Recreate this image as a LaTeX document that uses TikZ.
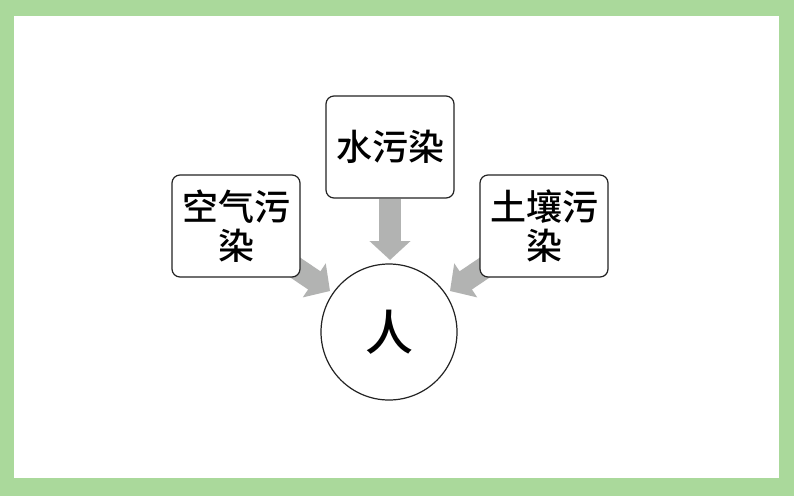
\documentclass[tikz,border=0pt]{standalone}
\usepackage{fontspec}
\setmainfont{Noto Sans CJK SC}[UprightFont={* Medium}]
\usetikzlibrary{arrows.meta,backgrounds}
\definecolor{framegreen}{RGB}{170,217,155}
\definecolor{arrowgray}{RGB}{178,179,178}
\definecolor{linegray}{RGB}{35,35,35}
\begin{document}
\begin{tikzpicture}[x=1pt,y=-1pt,
  box/.style={draw=linegray, line width=1.2pt, rounded corners=8pt, fill=white,
    minimum width=128pt, minimum height=102pt, align=center, inner sep=0pt,
    font=\fontsize{36}{39}\selectfont},
  person/.style={circle, draw=linegray, line width=1.2pt, fill=white,
    minimum size=136pt, inner sep=0pt, font=\fontsize{48}{50}\selectfont},
  fat/.style={draw=arrowgray, line width=22pt, -{Triangle[length=19pt,width=40pt]}}]
\useasboundingbox (0,0) rectangle (794,496);
\node[box] (air) at (236,226) {空气污\\染};
\node[box] (water) at (390,147) {水污染};
\node[box] (soil) at (544,226) {土壤污\\染};
\node[person] (ren) at (389,332) {人};
\coordinate (airstart) at (290,264);
\coordinate (airtip) at (330,291);
\coordinate (soilstart) at (490,264);
\coordinate (soiltip) at (450,291);
\coordinate (watertip) at (390,260);
\begin{scope}[on background layer]
  \fill[framegreen] (0,0) rectangle (794,496);
  \fill[white] (14,16) rectangle (779,478);
  \draw[fat] (airstart) -- (airtip);
  \draw[fat] (soilstart) -- (soiltip);
  \draw[fat] (water.south) -- (watertip);
\end{scope}
\end{tikzpicture}
\end{document}
